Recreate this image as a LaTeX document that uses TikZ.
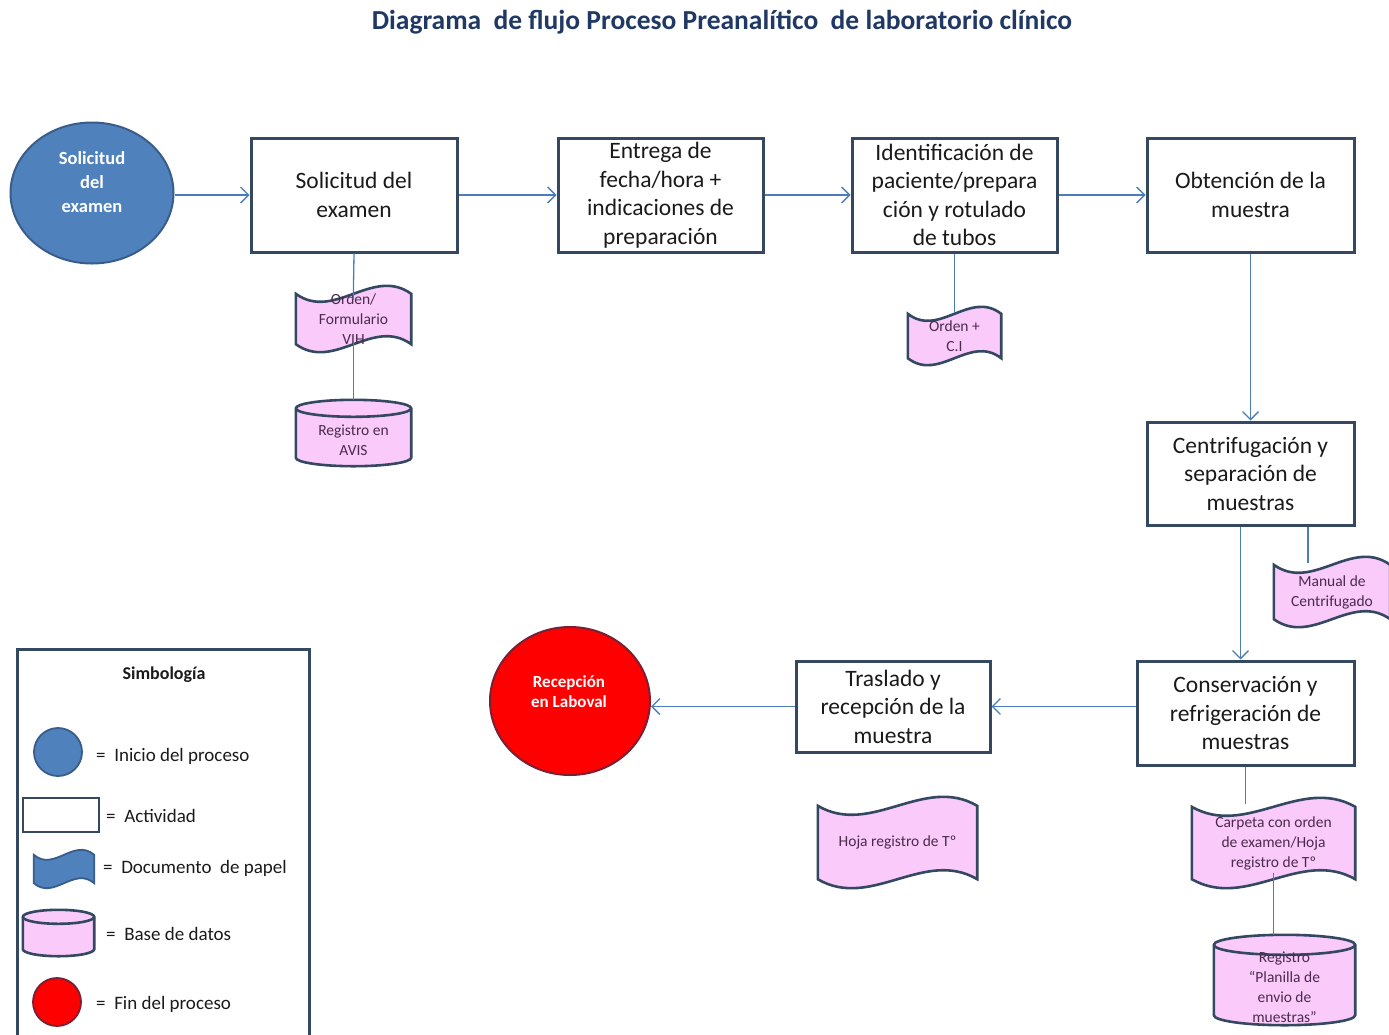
\documentclass[tikz,border=0pt]{standalone}
\usepackage{fontspec}
\setmainfont{Carlito}
\usetikzlibrary{shapes.geometric,arrows.meta,calc,backgrounds}

\definecolor{titlecol}{HTML}{1F3864}
\definecolor{boxline}{HTML}{344862}
\definecolor{flowcol}{HTML}{4A7EBB}
\definecolor{startfill}{HTML}{4F81BD}
\definecolor{startline}{HTML}{385D8A}
\definecolor{endfill}{HTML}{FF0000}
\definecolor{endline}{HTML}{7A2034}
\definecolor{pinkfill}{HTML}{FACBFA}
\definecolor{doctext}{HTML}{4B2A4B}
\definecolor{bodytext}{HTML}{1A1A1A}

% paper document outline (wavy top and bottom) behind node #1; #2 = wave amplitude
\newcommand\papershape[3]{%
  \begin{pgfonlayer}{background}
  \path[#3] let \p1=(#1.north west), \p2=(#1.south east), \n1={\x2-\x1} in
    (\x1,\y1-#2) .. controls ({\x1+\n1/3},{\y1-#2-3.46*#2}) and ({\x1+2*\n1/3},{\y1-#2+3.46*#2}) .. (\x2,\y1-#2)
    -- (\x2,\y2+#2) .. controls ({\x1+2*\n1/3},{\y2+#2+3.46*#2}) and ({\x1+\n1/3},{\y2+#2-3.46*#2}) .. (\x1,\y2+#2)
    -- cycle;
  \end{pgfonlayer}}

% database cylinder outline behind node #1; #2 = half height of the end ellipses
\newcommand\dbshape[3]{%
  \begin{pgfonlayer}{background}
  \path[#3] let \p1=(#1.north west), \p2=(#1.south east), \n1={(\x2-\x1)/2} in
    (\x1,\y1-#2) -- (\x1,\y2+#2)
    arc[start angle=180, end angle=360, x radius=\n1, y radius=#2]
    -- (\x2,\y1-#2)
    arc[start angle=0, end angle=180, x radius=\n1, y radius=#2] -- cycle;
  \path[#3, fill=none] let \p1=(#1.north west), \p2=(#1.south east), \n1={(\x2-\x1)/2} in
    (\x1,\y1-#2) arc[start angle=180, end angle=360, x radius=\n1, y radius=#2];
  \end{pgfonlayer}}

\begin{document}
\begin{tikzpicture}[x=1pt,y=-1pt,
  actbox/.style={draw=boxline, line width=3pt, fill=white, align=center,
    text=bodytext, inner sep=1pt, font=\fontsize{23.5}{28.5}\selectfont},
  flow/.style={draw=flowcol, line width=1.3pt,
    -{Straight Barb[length=8pt,width=16pt,line width=1.3pt]}},
  link/.style={draw=flowcol, line width=1.3pt},
  holder/.style={inner sep=0pt, align=center, text=doctext,
    font=\fontsize{15.5}{20}\selectfont},
  pinkline/.style={draw=boxline, line width=2.6pt, fill=pinkfill},
  blueline/.style={draw=startline, line width=1.8pt, fill=startfill},
  legtext/.style={anchor=west, inner sep=0pt, text=bodytext,
    font=\fontsize{19}{22}\selectfont}
]
\useasboundingbox (0,0) rectangle (1389,1034);

% title
\node[font=\bfseries\fontsize{27.5}{32}\selectfont, text=titlecol] (title) at (722,22)
  {Diagrama\ \ de flujo Proceso Preanalítico\ \ de laboratorio clínico};

% start and end events
\node[ellipse, draw=startline, line width=2pt, fill=startfill, minimum width=163pt,
  minimum height=141pt] (start) at (92,193) {};
\node[align=center, text=white, font=\bfseries\fontsize{18.5}{24}\selectfont]
  (startlbl) at (92,182) {Solicitud\\del\\examen};
\node[ellipse, draw=endline, line width=2pt, fill=endfill, minimum width=160pt,
  minimum height=148pt] (endc) at (570,701) {};
\node[align=center, text=white, font=\bfseries\fontsize{17}{20}\selectfont]
  (endlbl) at (569,692) {Recepción\\en Laboval};

% activities
\node[actbox, minimum width=206pt, minimum height=114pt] (b1) at (354,195)
  {Solicitud del\\examen};
\node[actbox, minimum width=205pt, minimum height=114pt] (b2) at (660.5,195)
  {Entrega de\\fecha/hora +\\indicaciones de\\preparación};
\node[actbox, minimum width=205pt, minimum height=114pt] (b3) at (954.5,195)
  {Identificación de\\paciente/prepara\\ción y rotulado\\de tubos};
\node[actbox, minimum width=207pt, minimum height=114pt] (b4) at (1250.5,195)
  {Obtención de la\\muestra};
\node[actbox, minimum width=207pt, minimum height=103pt] (b5) at (1250.5,473.5)
  {Centrifugación y\\separación de\\muestras};
\node[actbox, minimum width=217pt, minimum height=104pt] (b6) at (1245.5,713)
  {Conservación y\\refrigeración de\\muestras};
\node[actbox, minimum width=194pt, minimum height=91pt] (b7) at (893,706.5)
  {Traslado y\\recepción de la\\muestra};

% main flow
\draw[flow] (start.east |- b1.west) -- (b1.west);
\draw[flow] (b1.east) -- (b2.west);
\draw[flow] (b2.east) -- (b3.west);
\draw[flow] (b3.east) -- (b4.west);
\draw[flow] (b4.south) -- (b5.north);
\draw[flow] ([xshift=-10pt]b5.south) -- ([xshift=-10pt]b5.south |- b6.north);
\draw[flow] (b6.west |- b7.east) -- (b7.east);
\draw[flow] (b7.west) -- (b7.west -| endc.east);

% paper documents
\node[holder, minimum width=115pt, minimum height=66pt] (d1) at (353.5,319)
  {Orden/\\Formulario\\VIH};
\papershape{d1}{8pt}{pinkline}
\node[holder, minimum width=93pt, minimum height=58pt] (d2) at (954.5,336)
  {Orden +\\C.I};
\papershape{d2}{7pt}{pinkline}
\node[holder, minimum width=116pt, minimum height=70pt] (d3) at (1332,592)
  {Manual de\\Centrifugado};
\papershape{d3}{8pt}{pinkline}
\node[holder, minimum width=159pt, minimum height=91pt] (d4) at (897.5,842.5)
  {Hoja registro de Tº};
\papershape{d4}{9pt}{pinkline}
\node[holder, minimum width=163pt, minimum height=90pt] (d5) at (1273.5,843)
  {Carpeta con orden\\de examen/Hoja\\registro de Tº};
\papershape{d5}{9pt}{pinkline}

% databases
\node[minimum width=115pt, minimum height=66pt, inner sep=0pt] (c1) at (353.5,433) {};
\dbshape{c1}{8.5pt}{pinkline}
\node[holder] (c1lbl) at (353.5,440) {Registro en\\AVIS};
\node[minimum width=141pt, minimum height=90pt, inner sep=0pt] (c2) at (1284.5,980) {};
\dbshape{c2}{10pt}{pinkline}
\node[holder] (c2lbl) at (1284.5,987) {Registro\\“Planilla de\\envio de\\muestras”};

% document links
\draw[link, shorten >=-14pt] (b1.south) -- (d1.north);
\draw[link, shorten <=-14pt] (d1.south) -- (d1.south |- c1.north);
\draw[link, shorten >=-6pt] (b3.south) -- (b3.south |- d2.north);
\draw[link, shorten >=-6pt] ([xshift=57.5pt]b5.south) -- ([xshift=57.5pt]b5.south |- d3.north);
\draw[link, shorten >=-6pt] (b6.south) -- (b6.south |- d5.north);
\draw[link, shorten <=-15pt] (d5.south) -- (d5.south |- c2.north);

% legend
\draw[boxline, line width=3pt] (17,1040) -- (17,649) -- (309,649) -- (309,1040);
\node[font=\bfseries\fontsize{18}{22}\selectfont, text=bodytext] (legtitle) at (164,675)
  {Simbología};
\node[circle, draw=startline, line width=1.8pt, fill=startfill, minimum size=48pt,
  inner sep=0pt] (lg1) at (58,752) {};
\node[legtext] (lt1) at (96,756) {=\ \ Inicio del proceso};
\node[draw=boxline, line width=2.8pt, fill=white, minimum width=76pt,
  minimum height=34pt, inner sep=0pt] (lg2) at (61,815) {};
\node[legtext] (lt2) at (106,816) {=\ \ Actividad};
\node[minimum width=60pt, minimum height=38pt, inner sep=0pt] (lg3) at (64,869) {};
\papershape{lg3}{5pt}{blueline}
\node[legtext] (lt3) at (103,868) {=\ \ Documento\ \ de papel};
\node[minimum width=71pt, minimum height=46pt, inner sep=0pt] (lg4) at (58.5,933) {};
\dbshape{lg4}{7pt}{pinkline}
\node[legtext] (lt4) at (106,934) {=\ \ Base de datos};
\node[circle, draw=endline, line width=1.8pt, fill=endfill, minimum size=48pt,
  inner sep=0pt] (lg5) at (57,1002) {};
\node[legtext] (lt5) at (96,1004) {=\ \ Fin del proceso};
\end{tikzpicture}
\end{document}
